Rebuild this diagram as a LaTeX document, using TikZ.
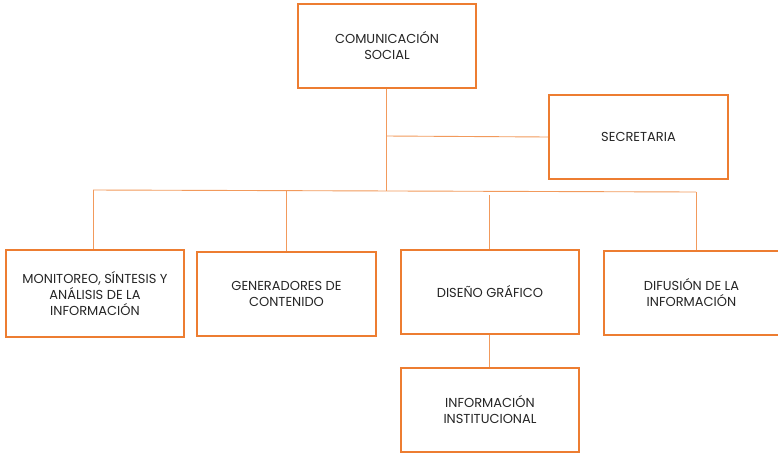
\documentclass[tikz,border=0pt]{standalone}
\usepackage{fontspec}
\setmainfont{Poppins}
\definecolor{boxorange}{HTML}{ED7D31}
\definecolor{linkorange}{HTML}{F29A5C}
\definecolor{labelgray}{HTML}{262626}
\begin{document}
\begin{tikzpicture}[x=1pt,y=-1pt,
  unit/.style={draw=boxorange, line width=1.7pt, fill=white, align=center,
    text=labelgray, font=\fontsize{13}{16}\selectfont,
    minimum width=178pt, minimum height=84pt, inner sep=2pt},
  link/.style={draw=linkorange, line width=0.9pt}]
\useasboundingbox (0,0) rectangle (778,453);
\fill[white] (0,0) rectangle (778,453);

% boxes
\node[unit] (dir) at (387,46) {COMUNICACIÓN\\SOCIAL};
\node[unit, minimum width=179pt] (sec) at (638.5,137) {SECRETARIA};
\node[unit, minimum height=87pt] (mon) at (95,293.5) {MONITOREO, SÍNTESIS Y\\ANÁLISIS DE LA\\INFORMACIÓN};
\node[unit, minimum width=179pt] (gen) at (286.5,294) {GENERADORES DE\\CONTENIDO};
\node[unit] (dis) at (490,292) {DISEÑO GRÁFICO};
\node[unit, minimum width=175pt] (dif) at (691.5,293) {DIFUSIÓN DE LA\\INFORMACIÓN};
\node[unit] (ins) at (490,410) {INFORMACIÓN\\INSTITUCIONAL};

% connector points
\coordinate (trunk) at (386,191);
\coordinate (secj) at (386,136);
\coordinate (busL) at (93,190);
\coordinate (busR) at (696,192);
\coordinate (genj) at (286,190.5);
\coordinate (disj) at (489,195);

% connectors
\draw[link] (dir.south -| trunk) -- (trunk);
\draw[link] (secj) -- (sec.west);
\draw[link] (busL) -- (busR);
\draw[link] (busL) -- (busL |- mon.north);
\draw[link] (genj) -- (genj |- gen.north);
\draw[link] (disj) -- (disj |- dis.north);
\draw[link] (busR) -- (busR |- dif.north);
\draw[link] (dis.south -| disj) -- (disj |- ins.north);
\end{tikzpicture}
\end{document}
